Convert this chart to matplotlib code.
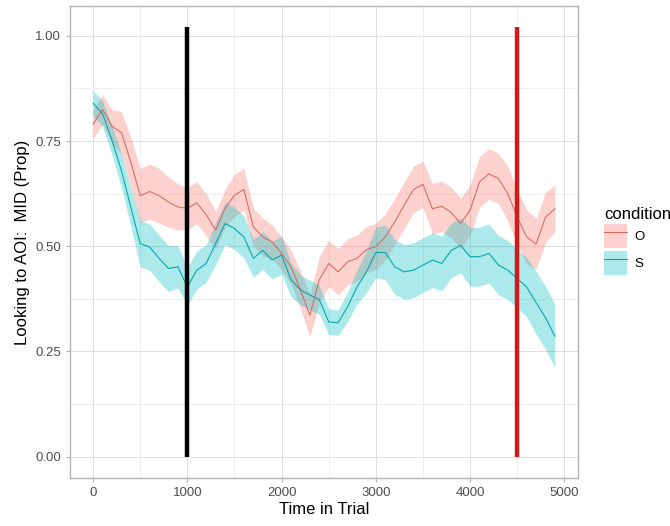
import numpy as np
import matplotlib
matplotlib.use("Agg")
import matplotlib.pyplot as plt
from matplotlib.patches import Patch
from matplotlib.lines import Line2D
from matplotlib.ticker import MultipleLocator, FixedLocator

plt.rcParams["font.family"] = ["Liberation Sans", "DejaVu Sans"]

# ==========================
# data
# ==========================
time_ms = np.arange(0, 5000, 100)

o_mean = [0.79, 0.825, 0.785, 0.77, 0.70, 0.62, 0.63, 0.62, 0.605, 0.593,
          0.59, 0.603, 0.575, 0.538, 0.59, 0.621, 0.635, 0.546, 0.522, 0.51,
          0.483, 0.451, 0.396, 0.336, 0.42, 0.459, 0.439, 0.463, 0.471, 0.492,
          0.499, 0.522, 0.558, 0.597, 0.635, 0.647, 0.589, 0.595, 0.58, 0.554,
          0.586, 0.653, 0.672, 0.661, 0.625, 0.569, 0.522, 0.505, 0.569, 0.589]
o_half = [0.035, 0.035, 0.04, 0.05, 0.06, 0.065, 0.065, 0.065, 0.06, 0.055,
          0.05, 0.05, 0.05, 0.045, 0.045, 0.05, 0.05, 0.045, 0.045, 0.04,
          0.04, 0.04, 0.045, 0.05, 0.055, 0.055, 0.055, 0.055, 0.055, 0.055,
          0.055, 0.055, 0.055, 0.055, 0.055, 0.055, 0.06, 0.06, 0.06, 0.06,
          0.06, 0.06, 0.06, 0.06, 0.065, 0.065, 0.065, 0.06, 0.06, 0.055]

s_mean = [0.84, 0.815, 0.752, 0.68, 0.593, 0.506, 0.498, 0.471, 0.447, 0.451,
          0.403, 0.443, 0.459, 0.506, 0.554, 0.542, 0.522, 0.471, 0.49, 0.467,
          0.479, 0.42, 0.396, 0.384, 0.373, 0.32, 0.318, 0.356, 0.403, 0.439,
          0.485, 0.485, 0.451, 0.439, 0.443, 0.455, 0.467, 0.459, 0.49, 0.502,
          0.475, 0.475, 0.483, 0.455, 0.443, 0.423, 0.403, 0.366, 0.33, 0.286]
s_half = [0.03, 0.03, 0.035, 0.04, 0.045, 0.055, 0.055, 0.055, 0.055, 0.05,
          0.045, 0.045, 0.045, 0.05, 0.05, 0.05, 0.05, 0.045, 0.045, 0.045,
          0.045, 0.04, 0.035, 0.035, 0.035, 0.03, 0.03, 0.035, 0.04, 0.05,
          0.06, 0.065, 0.065, 0.065, 0.065, 0.065, 0.065, 0.065, 0.065, 0.065,
          0.07, 0.07, 0.07, 0.07, 0.07, 0.07, 0.07, 0.075, 0.075, 0.075]

conditions = ["O", "S"]
cond_colors = ["#F8766D", "#00BFC4"]
line_colors = ["#d9675f", "#00a3a8"]
marker_times = [1000, 4500]
marker_colors = ["black", "#d31a1a"]
marker_top = 1.02

# ==========================
# plot
# ==========================
fig = plt.figure(figsize=(6.7, 5.26), dpi=100)
ax = fig.add_axes([0.1045, 0.0913, 0.7582, 0.8973])

series = [(o_mean, o_half), (s_mean, s_half)]
handles = []
for (mean, half), col, lcol in zip(series, cond_colors, line_colors):
    mean = np.array(mean)
    half = np.array(half)
    ax.fill_between(time_ms, mean - half, mean + half, color=col,
                    alpha=0.33, linewidth=0, zorder=2)
    ax.plot(time_ms, mean, color=lcol, linewidth=0.75, zorder=3)
    handles.append((Patch(facecolor=col, alpha=0.33, edgecolor="none"),
                    Line2D([], [], color=lcol, linewidth=0.75)))

for t, col in zip(marker_times, marker_colors):
    ax.plot([t, t], [0, marker_top], color=col, linewidth=3.2,
            solid_capstyle="butt", zorder=4)

ax.set_xlim(-245, 5145)
ax.set_ylim(-0.051, 1.071)
ax.xaxis.set_major_locator(FixedLocator([0, 1000, 2000, 3000, 4000, 5000]))
ax.xaxis.set_minor_locator(MultipleLocator(500))
ax.yaxis.set_major_locator(FixedLocator([0, 0.25, 0.5, 0.75, 1.0]))
ax.yaxis.set_minor_locator(MultipleLocator(0.125))
ax.set_yticklabels(["0.00", "0.25", "0.50", "0.75", "1.00"])

ax.grid(True, which="major", color="#dedede", linewidth=0.7, zorder=0)
ax.grid(True, which="minor", color="#e8e8e8", linewidth=0.5, zorder=0)
ax.set_axisbelow(True)
for sp in ax.spines.values():
    sp.set_color("#b3b3b3")
    sp.set_linewidth(1.0)
ax.tick_params(which="major", length=3, color="#b3b3b3", labelsize=9.5,
               labelcolor="#4d4d4d")
ax.tick_params(which="minor", length=0)

ax.set_xlabel("Time in Trial", fontsize=12, labelpad=2)
ax.set_ylabel("Looking to AOI:  MID (Prop)", fontsize=12, labelpad=4)

leg = ax.legend(handles, conditions, title="condition",
                loc="upper left", bbox_to_anchor=(0.902, 0.607),
                bbox_transform=fig.transFigure, frameon=False,
                fontsize=9.5, title_fontsize=12, handlelength=1.75,
                handleheight=2.4, labelspacing=0.2, handletextpad=0.5,
                borderaxespad=0, borderpad=0)
leg._legend_box.align = "left"

fig.savefig("out.png", dpi=100)
